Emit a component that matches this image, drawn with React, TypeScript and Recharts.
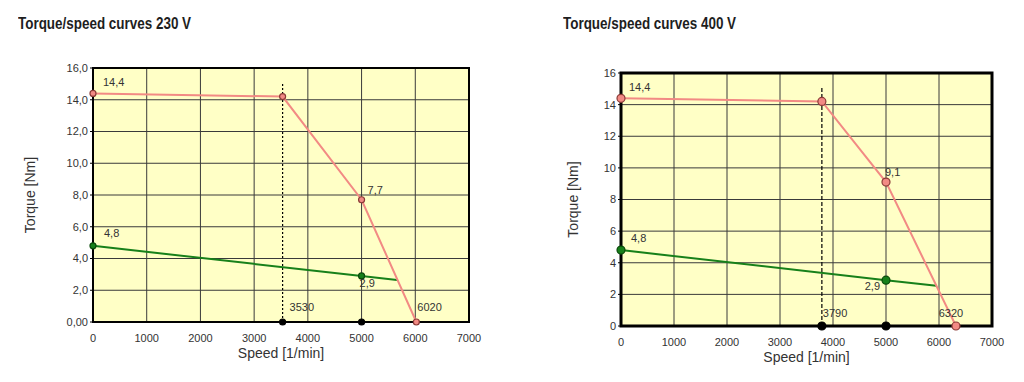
import React from "react";
import {
  LineChart,
  Line,
  XAxis,
  YAxis,
  CartesianGrid,
  ReferenceLine,
  ReferenceArea,
  Label,
} from "recharts";

// ---- data: 230 V ----
const peakSpeed230 = [0, 3530, 5000, 6020];
const peakTorque230 = [14.4, 14.2, 7.7, 0];
const ratedSpeed230 = [0, 5000, 5660];
const ratedTorque230 = [4.8, 2.9, 2.65];
const cornerSpeed230 = 3530;
const cornerTop230 = 15.1;

// ---- data: 400 V ----
const peakSpeed400 = [0, 3790, 5000, 6320];
const peakTorque400 = [14.4, 14.2, 9.1, 0];
const ratedSpeed400 = [0, 5000, 5950];
const ratedTorque400 = [4.8, 2.9, 2.54];
const cornerSpeed400 = 3790;
const cornerTop400 = 15.1;

const markSpeed = 5000;

// ---- axis ticks ----
const xTicks = [0, 1000, 2000, 3000, 4000, 5000, 6000, 7000];
const yTicks = [0, 2, 4, 6, 8, 10, 12, 14, 16];

const RED = "#f28a84";
const GREEN = "#17801a";
const BG = "#ffffc6";
const FONT = "'Liberation Sans', Arial, sans-serif";

type LabelSpec = { text: string; dx: number; dy: number; anchor: "start" | "middle" | "end" } | null;

const zip = (xs: number[], ys: number[]) => xs.map((x, i) => ({ x, y: ys[i] }));
const fmt = (v: number) => v.toFixed(1).replace(".", ",");

function makeLabel(specs: LabelSpec[]) {
  return (props: any) => {
    const { x, y, index } = props;
    const s = specs[index];
    if (!s) return null;
    return (
      <text x={x + s.dx} y={y + s.dy} textAnchor={s.anchor} dominantBaseline="central" fontSize={11} fill="#333" fontFamily={FONT}>
        {s.text}
      </text>
    );
  };
}

function makeDot(r: number, fill: string, stroke: string) {
  return (props: any) => {
    const { cx, cy, index, payload } = props;
    if (payload && payload.hide) return <g key={index} />;
    return <circle key={index} cx={cx} cy={cy} r={r} fill={fill} stroke={stroke} strokeWidth={1.2} />;
  };
}

type ChartProps = {
  title: string;
  left: number;
  peak: { x: number; y: number }[];
  rated: { x: number; y: number }[];
  corner: number;
  cornerTop: number;
  peakLabels: LabelSpec[];
  ratedLabels: LabelSpec[];
  cornerLabels: LabelSpec[];
  yFmt: (v: number) => string;
  margin: { top: number; right: number; left: number; bottom: number };
  dash: string;
  r: number;
  hLine: boolean;
  thickBorder: boolean;
  titleX: number;
  yLabelX: number;
};

function TorqueChart(p: ChartProps) {
  const ratedData = p.rated.map((d, i) => ({ ...d, hide: i === p.rated.length - 1 }));
  const cornerData = [
    { x: p.corner, y: 0 },
    { x: markSpeed, y: 0 },
  ];
  return (
    <div style={{ position: "absolute", left: p.left, top: 0, width: 512, height: 382 }}>
      <div
        style={{
          position: "absolute",
          left: p.titleX,
          top: 15,
          fontFamily: FONT,
          fontWeight: "bold",
          fontSize: 16,
          lineHeight: "18px",
          color: "#1e1e1e",
          whiteSpace: "nowrap",
          transform: "scaleX(0.84)",
          transformOrigin: "left center",
        }}
      >
        {p.title}
      </div>
      <LineChart width={512} height={382} margin={p.margin}>
        <CartesianGrid
          fill={BG}
          fillOpacity={1}
          stroke="#3a3a3a"
          strokeWidth={1}
          verticalValues={xTicks}
          horizontalValues={yTicks}
        />
        <ReferenceArea
          x1={0}
          x2={7000}
          y1={0}
          y2={16}
          fill="none"
          fillOpacity={0}
          stroke="#000"
          strokeWidth={p.thickBorder ? 3 : 2}
        />
        <XAxis
          type="number"
          dataKey="x"
          domain={[0, 7000]}
          ticks={xTicks}
          interval={0}
          axisLine={false}
          tickLine={false}
          height={40}
          tick={{ fontSize: 11, fill: "#333", fontFamily: FONT }}
          tickMargin={6}
        >
          <Label value="Speed [1/min]" position="insideBottom" offset={4} style={{ fontSize: 14, fill: "#333", fontFamily: FONT }} />
        </XAxis>
        <YAxis
          type="number"
          dataKey="y"
          domain={[0, 16]}
          ticks={yTicks}
          interval={0}
          axisLine={false}
          tickLine={{ stroke: "#000" }}
          tickSize={3}
          width={60}
          tickFormatter={p.yFmt}
          tick={{ fontSize: 11, fill: "#333", fontFamily: FONT }}
        >
          <Label
            value="Torque [Nm]"
            angle={-90}
            position="insideLeft"
            offset={p.yLabelX}
            style={{ fontSize: 14, fill: "#333", fontFamily: FONT, textAnchor: "middle" }}
          />
        </YAxis>
        <ReferenceLine
          segment={[{ x: p.corner, y: 0 }, { x: p.corner, y: p.cornerTop }]}
          stroke="#000"
          strokeWidth={1.2}
          strokeDasharray={p.dash}
        />
        {p.hLine && (
          <ReferenceLine
            segment={[{ x: p.corner, y: 0 }, { x: markSpeed, y: 0 }]}
            stroke="#000"
            strokeWidth={1.2}
            strokeDasharray={p.dash}
          />
        )}
        <Line
          data={ratedData}
          dataKey="y"
          stroke={GREEN}
          strokeWidth={2}
          dot={makeDot(p.r, GREEN, "#0a4a0a")}
          label={makeLabel(p.ratedLabels)}
          isAnimationActive={false}
        />
        <Line
          data={p.peak}
          dataKey="y"
          stroke={RED}
          strokeWidth={2}
          dot={makeDot(p.r, RED, "#8a3a36")}
          label={makeLabel(p.peakLabels)}
          isAnimationActive={false}
        />
        <Line
          data={cornerData}
          dataKey="y"
          stroke="none"
          dot={makeDot(p.r, "#000", "#000")}
          label={makeLabel(p.cornerLabels)}
          isAnimationActive={false}
        />
      </LineChart>
    </div>
  );
}

export default function App() {
  const peak230 = zip(peakSpeed230, peakTorque230);
  const rated230 = zip(ratedSpeed230, ratedTorque230);
  const peak400 = zip(peakSpeed400, peakTorque400);
  const rated400 = zip(ratedSpeed400, ratedTorque400);

  return (
    <div style={{ position: "absolute", left: 0, top: 0, width: 1024, height: 382, background: "#fff", overflow: "hidden" }}>
      <TorqueChart
        title="Torque/speed curves 230 V"
        left={0}
        titleX={18}
        yLabelX={-3}
        peak={peak230}
        rated={rated230}
        corner={cornerSpeed230}
        cornerTop={cornerTop230}
        peakLabels={[
          { text: fmt(peakTorque230[0]), dx: 10, dy: -11, anchor: "start" },
          null,
          { text: fmt(peakTorque230[2]), dx: 6, dy: -10, anchor: "start" },
          { text: String(peakSpeed230[3]), dx: 1, dy: -15, anchor: "start" },
        ]}
        ratedLabels={[
          { text: fmt(ratedTorque230[0]), dx: 11, dy: -13, anchor: "start" },
          { text: fmt(ratedTorque230[1]), dx: -2, dy: 7, anchor: "start" },
          null,
        ]}
        cornerLabels={[{ text: String(cornerSpeed230), dx: 7, dy: -15, anchor: "start" }, null]}
        yFmt={(v) => (v === 0 ? "0,00" : fmt(v))}
        margin={{ top: 68, right: 43, left: 33, bottom: 20 }}
        dash="2 2"
        r={3}
        hLine={true}
        thickBorder={false}
      />
      <TorqueChart
        title="Torque/speed curves 400 V"
        left={512}
        titleX={51}
        yLabelX={12}
        peak={peak400}
        rated={rated400}
        corner={cornerSpeed400}
        cornerTop={cornerTop400}
        peakLabels={[
          { text: fmt(peakTorque400[0]), dx: 8, dy: -11, anchor: "start" },
          null,
          { text: fmt(peakTorque400[2]), dx: -1, dy: -10, anchor: "start" },
          { text: String(peakSpeed400[3]), dx: -5, dy: -13, anchor: "middle" },
        ]}
        ratedLabels={[
          { text: fmt(ratedTorque400[0]), dx: 10, dy: -12, anchor: "start" },
          { text: fmt(ratedTorque400[1]), dx: -6, dy: 6, anchor: "end" },
          null,
        ]}
        cornerLabels={[{ text: String(cornerSpeed400), dx: 1, dy: -13, anchor: "start" }, null]}
        yFmt={(v) => String(v)}
        margin={{ top: 73, right: 32, left: 49, bottom: 16 }}
        dash="4 2"
        r={4}
        hLine={false}
        thickBorder={true}
      />
    </div>
  );
}
